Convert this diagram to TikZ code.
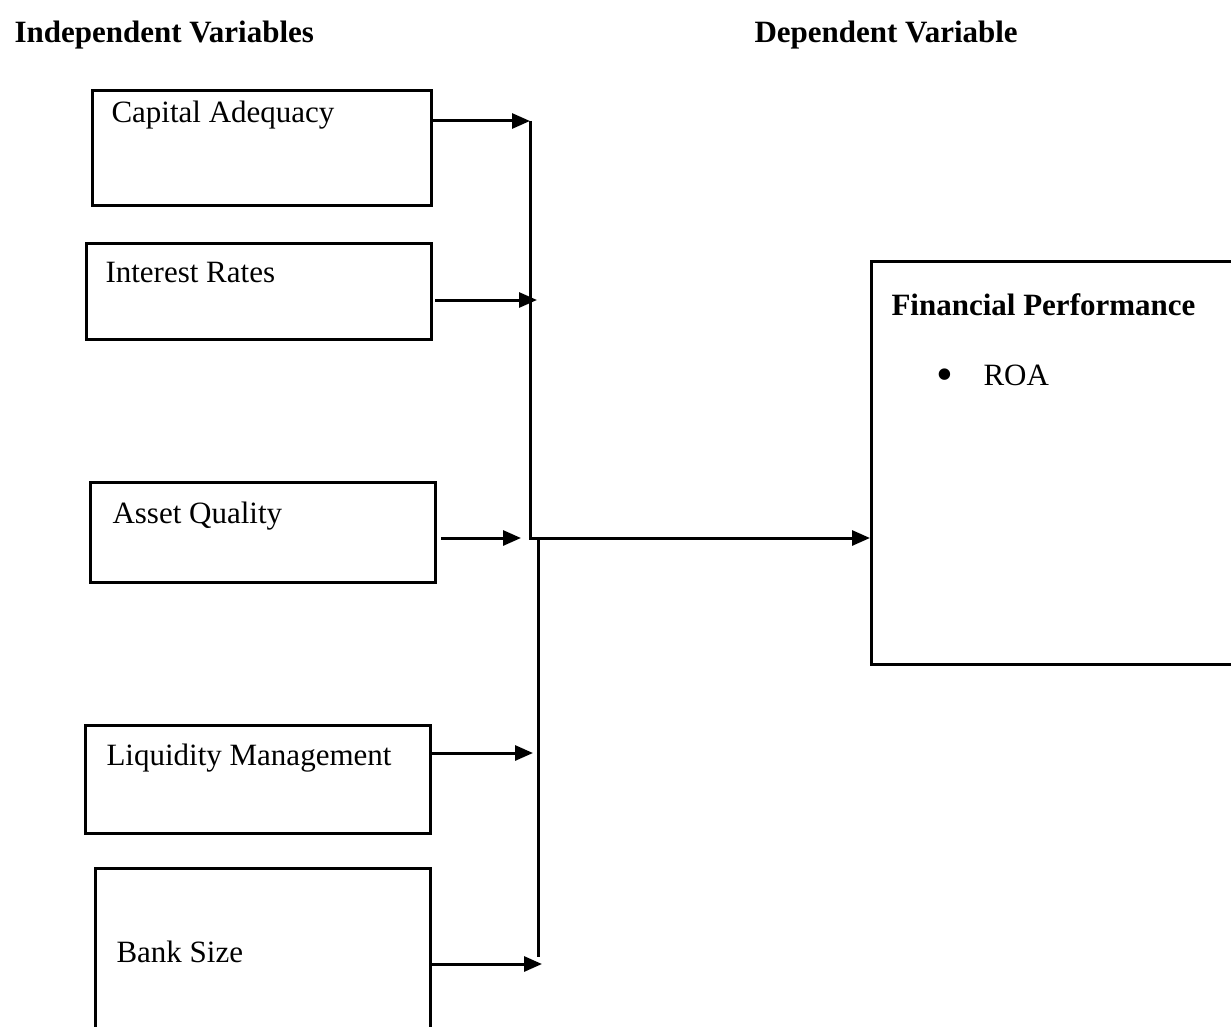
\documentclass[tikz,border=0pt]{standalone}
\usepackage{fontspec}
\setmainfont{Liberation Serif}
\usetikzlibrary{arrows.meta,positioning}

\begin{document}
\begin{tikzpicture}[x=0.5pt,y=-0.5pt,>={Triangle[length=9pt,width=7.5pt]},
  line width=1.5pt,
  every node/.style={font=\fontsize{15.5}{18}\selectfont},
  varbox/.style={draw,anchor=north west,inner sep=0pt},
  vartext/.style={anchor=base west,inner sep=0pt},
  headtext/.style={anchor=base west,inner sep=0pt,font=\fontsize{15.5}{18}\selectfont\bfseries}]
  \useasboundingbox (0,0) rectangle (1231,1027);
  \clip (0,0) rectangle (1231,1027);

  \node[headtext] (indep) at (13,43) {Independent Variables};
  \node[headtext] (dep) at (753,43) {Dependent Variable};

  \node[varbox,minimum width=169.5pt,minimum height=57.5pt] (cap) at (91,89) {};
  \node[varbox,minimum width=172.5pt,minimum height=48pt] (rate) at (85,242) {};
  \node[varbox,minimum width=172.5pt,minimum height=50pt] (asset) at (89,481) {};
  \node[varbox,minimum width=172.5pt,minimum height=54pt] (liq) at (84,724) {};
  \node[varbox,minimum width=167.5pt,minimum height=100pt] (size) at (94,867) {};
  \node[varbox,minimum width=200pt,minimum height=201.5pt] (perf) at (870,260) {};

  \node[vartext] (capl) at (110,123) {Capital Adequacy};
  \node[vartext] (ratel) at (104,283) {Interest Rates};
  \node[vartext] (assetl) at (111,523) {Asset Quality};
  \node[vartext] (liql) at (105,765) {Liquidity Management};
  \node[vartext] (sizel) at (115,962) {Bank Size};
  \node[headtext] (perfl) at (890,315) {Financial Performance};
  \node[vartext,font=\fontsize{24}{24}\selectfont] (dot) at (935,390) {\textbullet};
  \node[vartext] (roa) at (982,385) {ROA};

  % the bus is drawn in two pieces, the lower one sits a few px to the right
  \coordinate (busTop) at (530,121);
  \coordinate (busMid) at (530,538);
  \coordinate (busLow) at (538,538);
  \coordinate (busEnd) at (538,957);
  \coordinate (tipB) at (537,300);
  \coordinate (tipC) at (521,538);
  \coordinate (tipD) at (533,753);
  \coordinate (tipE) at (542,964);

  \draw (busTop) -- (busMid) -- (busLow) -- (busEnd);
  \draw[->] (cap.east |- busTop) -- (busTop);
  \draw[->] ([xshift=1pt]rate.east |- tipB) -- (tipB);
  \draw[->] ([xshift=2pt]asset.east |- tipC) -- (tipC);
  \draw[->] (liq.east |- tipD) -- (tipD);
  \draw[->] (size.east |- tipE) -- (tipE);
  \draw[->] (busMid) -- (perf.west |- busMid);
\end{tikzpicture}
\end{document}
